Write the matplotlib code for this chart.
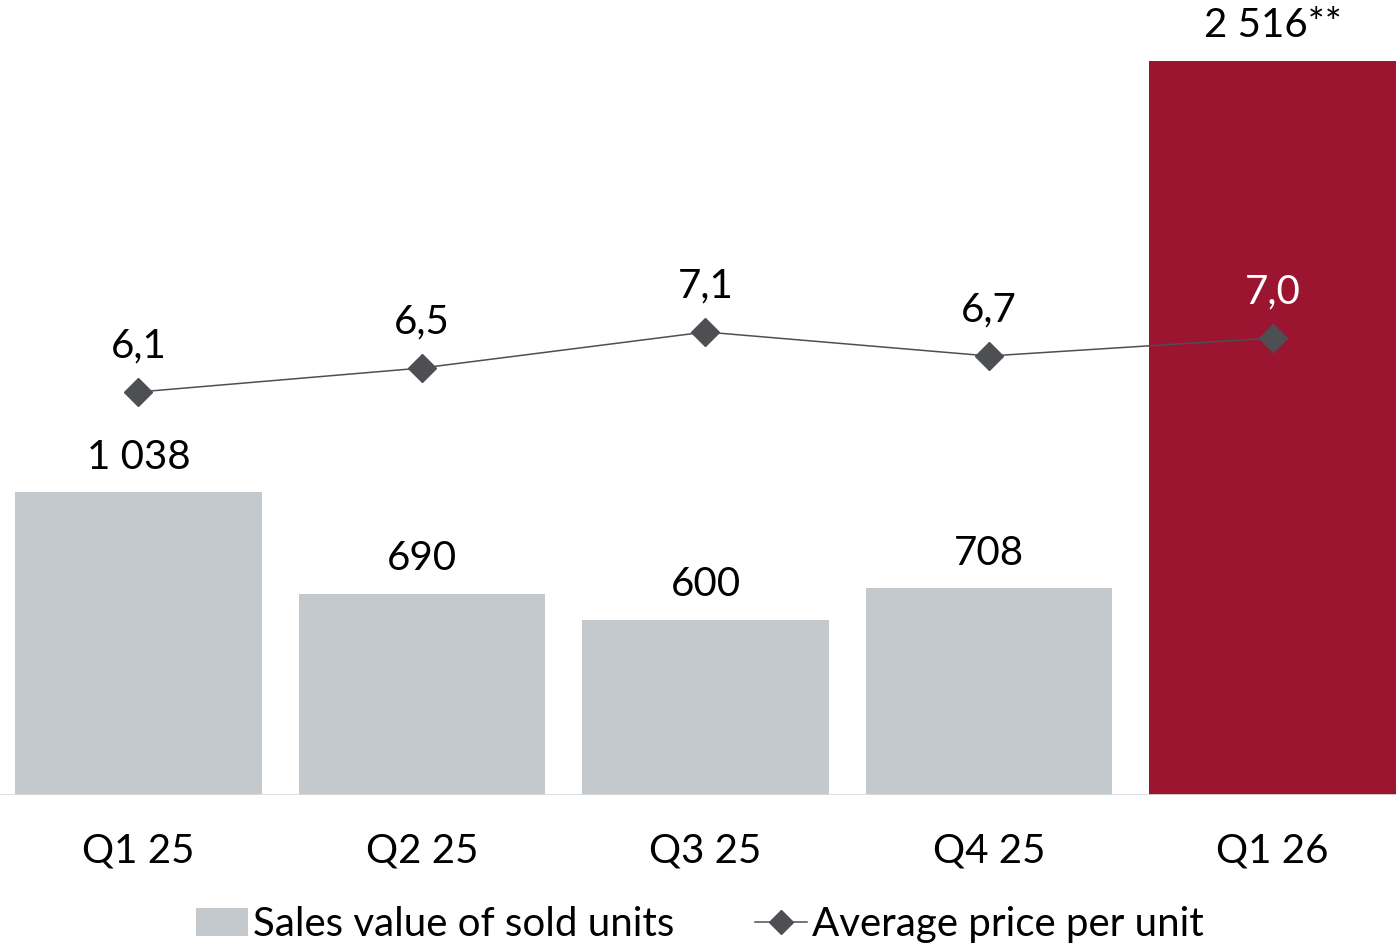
import matplotlib.pyplot as plt
from matplotlib.lines import Line2D
from matplotlib.patches import Patch

quarters = ["Q1 25", "Q2 25", "Q3 25", "Q4 25", "Q1 26"]
sales_value = [1038, 690, 600, 708, 2516]
avg_price = [6.1, 6.5, 7.1, 6.7, 7.0]
sales_labels = ["1 038", "690", "600", "708", "2 516**"]
price_labels = ["6,1", "6,5", "7,1", "6,7", "7,0"]

GREY = "#C4C9CD"
RED = "#9B1430"
DARK = "#4D4F53"
FS = 29

plt.rcParams['font.family'] = ['Lato', 'DejaVu Sans']

fig = plt.figure(figsize=(14, 9.49), dpi=100)
ax = fig.add_axes([0, 0.1623, 1396 / 1400, 0.8166])
ax2 = ax.twinx()

x = list(range(len(quarters)))
colors = [GREY] * 4 + [RED]
ax.bar(x, sales_value, width=0.871, color=colors, zorder=2)
ax.axhline(0, color="#D9D9D9", lw=2, zorder=3)

for xi, v, lab in zip(x, sales_value, sales_labels):
    ax.annotate(lab, (xi, v), xytext=(0, 12), textcoords="offset points",
                ha="center", va="bottom", fontsize=FS, color="black")

# price line sits on its own axis over the bars
ax2.plot(x, avg_price, color=DARK, lw=1.1, marker="D", markersize=14,
         markerfacecolor=DARK, markeredgecolor=DARK, zorder=4)
for i, (xi, v, lab) in enumerate(zip(x, avg_price, price_labels)):
    c = "white" if i == len(x) - 1 else "black"
    ax2.annotate(lab, (xi, v), xytext=(0, 20), textcoords="offset points",
                 ha="center", va="bottom", fontsize=FS, color=c)

ax.set_xlim(-0.4885, 4.4356)
ax.set_ylim(0, 2657)
ax2.set_ylim(-0.617, 12.3)

ax.set_xticks(x)
ax.set_xticklabels(quarters, fontsize=FS)
ax.tick_params(axis="x", length=0, pad=27)
ax.set_yticks([])
ax2.set_yticks([])
for a in (ax, ax2):
    for s in a.spines.values():
        s.set_visible(False)

handles = [Patch(facecolor=GREY, edgecolor="none"),
           Line2D([0], [0], color=DARK, lw=1.1, marker="D", markersize=12,
                  markerfacecolor=DARK)]
fig.legend(handles, ["Sales value of sold units", "Average price per unit"],
           loc="center", bbox_to_anchor=(0.5, 0.026), ncol=2,
           frameon=False, fontsize=FS, handlelength=1.3, handletextpad=0.12,
           columnspacing=2.0, handleheight=0.7)

fig.savefig("out.png", dpi=100)
